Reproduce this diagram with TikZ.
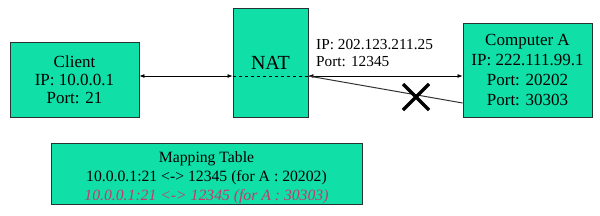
\documentclass[tikz,border=0pt]{standalone}
\usepackage{fontspec}
\setmainfont{Liberation Serif}
\usetikzlibrary{arrows.meta}
\definecolor{boxfill}{RGB}{16,224,168}
\definecolor{boxline}{RGB}{40,50,50}
\definecolor{redtext}{RGB}{200,55,105}
\tikzset{
  hostbox/.style={draw=boxline, fill=boxfill, line width=0.9pt, rectangle, inner sep=0pt, align=center, text=black},
  link/.style={line width=0.7pt, {Latex[length=5pt,width=4pt]}-{Latex[length=5pt,width=4pt]}},
  lbl/.style={anchor=west, inner sep=0pt, font=\fontsize{15.3}{16}\selectfont}
}
\begin{document}
\begin{tikzpicture}[x=1pt,y=-1pt]
\useasboundingbox (0,0) rectangle (600,215);
\node[hostbox, minimum width=129pt, minimum height=75pt, font=\fontsize{17}{18}\selectfont] (client) at (74.5,79.5) {Client\\IP: 10.0.0.1\\Port: 21};
\node[hostbox, minimum width=75pt, minimum height=109pt, font=\fontsize{20}{22}\selectfont] (nat) at (270.5,62.5) {NAT};
\node[hostbox, minimum width=129pt, minimum height=94pt, font=\fontsize{17}{20}\selectfont] (compa) at (527.5,70) {Computer A\\IP: 222.111.99.1\\Port: 20202\\Port: 30303};
\node[hostbox, minimum width=311pt, minimum height=61pt, font=\fontsize{15.7}{19}\selectfont] (map) at (206.5,173.5) {\raisebox{-4pt}[\height][\depth]{\begin{tabular}{@{}c@{}}Mapping Table\\10.0.0.1:21 <-> 12345 (for A : 20202)\\\textcolor{redtext}{\itshape 10.0.0.1:21 <-> 12345 (for A : 30303)}\end{tabular}}};
\coordinate (m) at (0,76);
\coordinate (lowA) at (0,103);
\draw[link] (client.east |- m) -- (nat.west |- m);
\draw[dashed, line width=0.7pt] (nat.west |- m) -- (nat.east |- m);
\draw[link] (nat.east |- m) -- (compa.west |- m);
\draw[line width=1pt, draw=black!80] (nat.east |- m) -- (compa.west |- lowA);
\node[lbl] (ipl) at (316,45) {IP: 202.123.211.25};
\node[lbl] (portl) at (316,62) {Port: 12345};
\coordinate (xc) at (416,97);
\draw[line width=3.5pt] ([shift={(-13,-13)}]xc) -- ([shift={(13,13)}]xc);
\draw[line width=3.5pt] ([shift={(-13,13)}]xc) -- ([shift={(13,-13)}]xc);
\end{tikzpicture}
\end{document}
